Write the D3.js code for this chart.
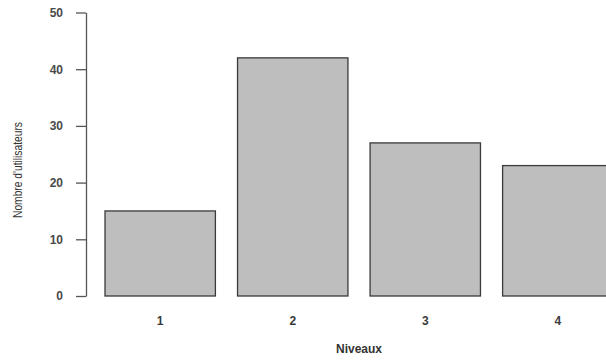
<!DOCTYPE html>
<html>
<head>
<meta charset="utf-8">
<script src="https://cdn.jsdelivr.net/npm/d3@7"></script>
<style>
  body { margin: 0; background: #fff; }
  svg { display: block; font-family: "Liberation Sans", Arial, sans-serif; }
</style>
</head>
<body>
<svg width="606" height="361"></svg>
<script>
// values
var niveaux = ["1", "2", "3", "4"];
var utilisateurs = [15, 42, 27, 23];
var yTicks = [0, 10, 20, 30, 40, 50];

var svg = d3.select('svg');

var x = d3.scaleBand()
    .domain(niveaux)
    .range([94, 624])
    .paddingInner(0.167)
    .paddingOuter(0.083);

var y = d3.scaleLinear()
    .domain([0, 50])
    .range([296, 12.5]);

// bars
svg.append('g')
  .selectAll('rect')
  .data(niveaux)
  .enter().append('rect')
    .attr('x', (d) => x(d))
    .attr('y', (d, i) => y(utilisateurs[i]))
    .attr('width', x.bandwidth())
    .attr('height', (d, i) => y(0) - y(utilisateurs[i]))
    .attr('fill', '#bebebe')
    .attr('stroke', '#3a3a3a')
    .attr('stroke-width', 1.3);

// y axis, R style
var yAxis = svg.append('g')
    .attr('transform', 'translate(86,0)')
    .call(d3.axisLeft(y).tickValues(yTicks).tickSize(10).tickSizeOuter(0).tickPadding(13));
yAxis.select('.domain').attr('stroke', '#555').attr('stroke-width', 1.3);
yAxis.selectAll('.tick line').attr('stroke', '#555').attr('stroke-width', 1.3);
yAxis.selectAll('.tick text')
    .attr('fill', '#4a4a4a')
    .attr('font-size', 12)
    .attr('font-weight', 'bold')
    .attr('font-family', '"Liberation Sans", Arial, sans-serif');

// x labels, no axis line
var xAxis = svg.append('g')
    .attr('transform', 'translate(0,296)')
    .call(d3.axisBottom(x).tickSize(0).tickPadding(20));
xAxis.select('.domain').remove();
xAxis.selectAll('.tick text')
    .attr('fill', '#3a3a3a')
    .attr('font-size', 12)
    .attr('font-weight', 'bold')
    .attr('font-family', '"Liberation Sans", Arial, sans-serif');

// titles
svg.append('text')
    .attr('x', 359)
    .attr('y', 353)
    .attr('text-anchor', 'middle')
    .attr('fill', '#333')
    .attr('font-size', 12)
    .attr('font-weight', 'bold')
    .text('Niveaux');

svg.append('text')
    .attr('transform', 'translate(22,170) rotate(-90)')
    .attr('text-anchor', 'middle')
    .attr('fill', '#333')
    .attr('font-size', 13)
    .attr('textLength', 96)
    .attr('lengthAdjust', 'spacingAndGlyphs')
    .text("Nombre d'utilisateurs");
</script>
</body>
</html>
